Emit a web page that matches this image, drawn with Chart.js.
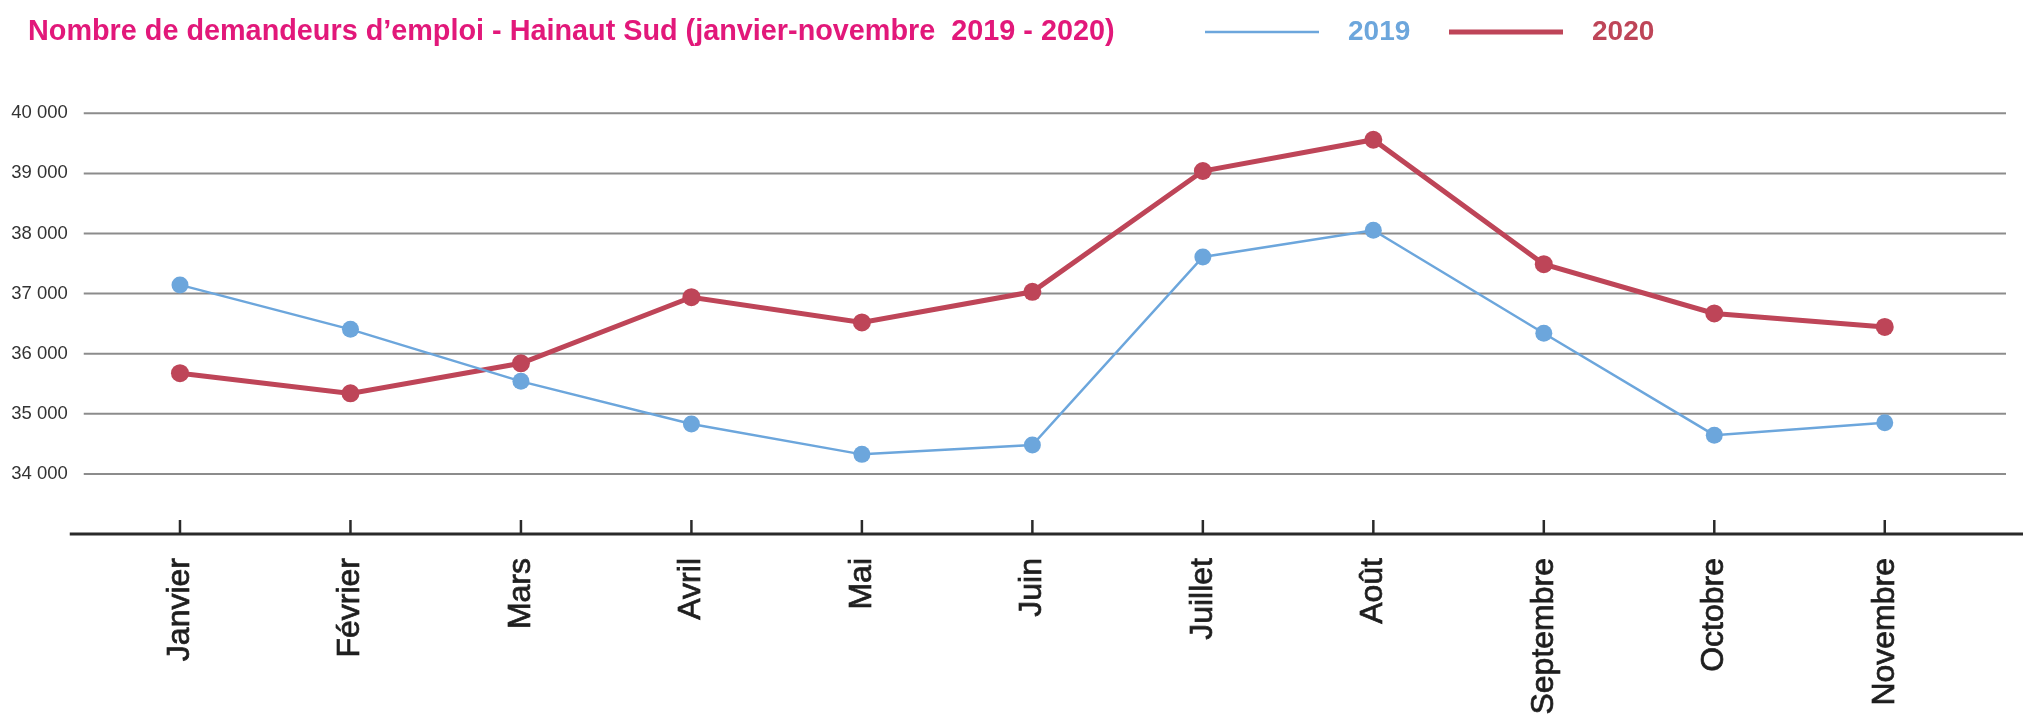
<!DOCTYPE html>
<html>
<head>
<meta charset="utf-8">
<script src="https://cdn.jsdelivr.net/npm/chart.js@4"></script>
<style>
  html, body { margin: 0; padding: 0; background: #fff; }
  #wrap { width: 2038px; height: 716px; position: relative; }
</style>
</head>
<body>
<div id="wrap"><canvas id="chart"></canvas></div>
<script>
const months = ['Janvier', 'Février', 'Mars', 'Avril', 'Mai', 'Juin', 'Juillet', 'Août', 'Septembre', 'Octobre', 'Novembre'];
const values2019 = [37145, 36405, 35540, 34830, 34325, 34480, 37610, 38055, 36340, 34645, 34850];
const values2020 = [35675, 35340, 35840, 36940, 36520, 37030, 39040, 39560, 37490, 36670, 36445];
const yTicks = [34000, 35000, 36000, 37000, 38000, 39000, 40000];
const yMin = 33000;
const yMax = 40000;

const titleText = 'Nombre de demandeurs d\u2019emploi - Hainaut Sud (janvier-novembre  2019 - 2020)';
const fontFamily = 'Helvetica, Arial, "Liberation Sans", sans-serif';
const blue = '#6ca6dc';
const red = '#be4558';
const pink = '#e2187a';

function formatThousands(v) {
    return String(v).replace(/\B(?=(\d{3})+(?!\d))/g, ' ');
}

// horizontal rules, base line and small upward ticks
const axisLines = {
    id: 'axisLines',
    beforeDatasetsDraw(chart) {
        const { ctx, chartArea, scales: { x, y } } = chart;
        ctx.save();
        ctx.strokeStyle = '#8c8c8c';
        ctx.lineWidth = 2;
        y.ticks.forEach(t => {
            const py = y.getPixelForValue(t.value);
            ctx.beginPath();
            ctx.moveTo(chartArea.left - 11, py);
            ctx.lineTo(chartArea.right + 36, py);
            ctx.stroke();
        });
        const base = y.getPixelForValue(yMin);
        ctx.strokeStyle = '#2a2a2a';
        ctx.lineWidth = 3;
        ctx.beginPath();
        ctx.moveTo(chartArea.left - 25, base);
        ctx.lineTo(chartArea.right + 53, base);
        ctx.stroke();
        ctx.lineWidth = 2.5;
        x.ticks.forEach((t, i) => {
            const px = x.getPixelForTick(i);
            ctx.beginPath();
            ctx.moveTo(px, base);
            ctx.lineTo(px, base - 14);
            ctx.stroke();
        });
        ctx.restore();
    }
};

// title and legend share the top row
const header = {
    id: 'header',
    afterDraw(chart) {
        const ctx = chart.ctx;
        const ly = 32;
        ctx.save();
        ctx.textBaseline = 'middle';
        ctx.textAlign = 'left';
        ctx.font = 'bold 28.8px ' + fontFamily;
        ctx.fillStyle = pink;
        ctx.fillText(titleText, 28, ly);

        ctx.font = 'bold 28px ' + fontFamily;
        let lx = 1205;
        chart.data.datasets.forEach(ds => {
            ctx.strokeStyle = ds.borderColor;
            ctx.lineWidth = ds.borderWidth;
            ctx.beginPath();
            ctx.moveTo(lx, ly);
            ctx.lineTo(lx + 114, ly);
            ctx.stroke();
            ctx.fillStyle = ds.borderColor;
            ctx.fillText(ds.label, lx + 143, ly);
            lx += 244;
        });
        ctx.restore();
    }
};

const ctx = document.getElementById('chart').getContext('2d');
new Chart(ctx, {
    type: 'line',
    data: {
        labels: months,
        datasets: [
            {
                label: '2019',
                data: values2019,
                borderColor: blue,
                backgroundColor: blue,
                borderWidth: 2.5,
                pointRadius: 8.5,
                pointBorderWidth: 0,
                pointBackgroundColor: blue,
                tension: 0
            },
            {
                label: '2020',
                data: values2020,
                borderColor: red,
                backgroundColor: red,
                borderWidth: 5,
                pointRadius: 9,
                pointBorderWidth: 0,
                pointBackgroundColor: red,
                tension: 0
            }
        ]
    },
    options: {
        responsive: true,
        maintainAspectRatio: false,
        animation: false,
        layout: {
            padding: { left: 0, right: 68, top: 113.3, bottom: 0 }
        },
        plugins: {
            legend: { display: false },
            tooltip: { enabled: false },
            title: { display: false }
        },
        scales: {
            x: {
                offset: true,
                grid: { display: false, drawTicks: false },
                border: { display: false },
                ticks: {
                    autoSkip: false,
                    minRotation: 90,
                    maxRotation: 90,
                    padding: 24,
                    color: '#1e1e1e',
                    textStrokeColor: '#1e1e1e',
                    textStrokeWidth: 0.7,
                    font: { family: fontFamily, size: 32 }
                },
                afterFit: s => { s.height = 182; }
            },
            y: {
                min: yMin,
                max: yMax,
                grid: { display: false, drawTicks: false },
                border: { display: false },
                afterBuildTicks: s => { s.ticks = yTicks.map(v => ({ value: v })); },
                afterFit: s => { s.width = 94.75; },
                ticks: {
                    padding: 27,
                    color: '#333333',
                    font: { family: fontFamily, size: 18.5 },
                    callback: v => formatThousands(v)
                }
            }
        }
    },
    plugins: [axisLines, header]
});
</script>
</body>
</html>
